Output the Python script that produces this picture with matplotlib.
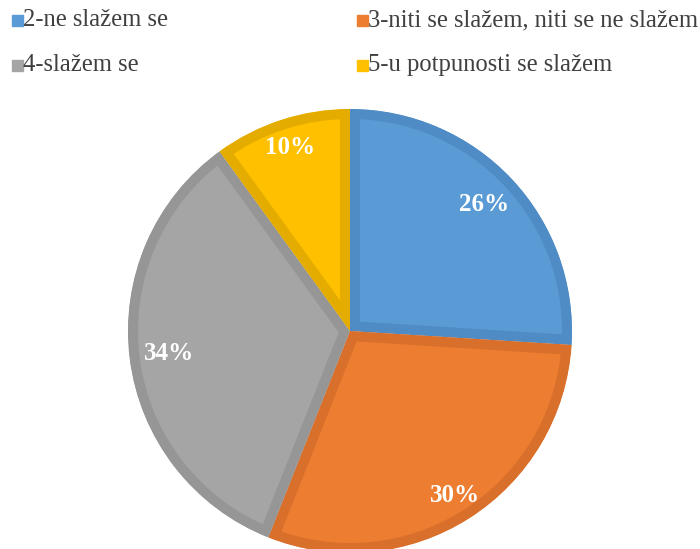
import numpy as np
import matplotlib.pyplot as plt
from matplotlib.patches import Rectangle

plt.rcParams['font.family'] = ['Liberation Serif', 'DejaVu Serif']

labels = ['2-ne slažem se', '3-niti se slažem, niti se ne slažem',
          '4-slažem se', '5-u potpunosti se slažem']
values = [26, 30, 34, 10]
colors = ['#5B9BD5', '#ED7D31', '#A5A5A5', '#FFC000']
edges = ['#4F8BC4', '#D86F2A', '#969696', '#E5AC00']
label_r = [0.83, 0.88, 0.82, 0.87]  # label distance as fraction of radius

fig = plt.figure(figsize=(7, 5.49), dpi=100)
ax = fig.add_axes([0, 0, 1, 1])

cx, cy, R = 350, 218, 222
wedges, texts, autotexts = ax.pie(values, colors=colors, startangle=90, counterclock=False,
                                  center=(cx, cy), radius=R, autopct='%d%%',
                                  textprops=dict(color='white', fontsize=18, fontweight='bold'))
ax.set_xlim(0, 700)
ax.set_ylim(0, 549)
ax.set_aspect('equal')
ax.axis('off')

# thick inner border: stroke clipped to the wedge itself
for w, ec in zip(wedges, edges):
    w.set_edgecolor(ec)
    w.set_linewidth(14.4)
    w.set_clip_on(True)
    w.set_clip_path(w)

for w, t, f in zip(wedges, autotexts, label_r):
    a = np.deg2rad((w.theta1 + w.theta2) / 2)
    t.set_position((cx + f * R * np.cos(a), cy + f * R * np.sin(a)))

# legend, two columns
pos = [(12, 20), (357, 20), (12, 65), (357, 65)]
for (x, y), lab, c in zip(pos, labels, colors):
    fig.patches.append(Rectangle((x / 700, 1 - (y + 5.5) / 549), 11 / 700, 11 / 549,
                                 transform=fig.transFigure, color=c))
    fig.text((x + 11) / 700, 1 - y / 549, lab, fontsize=17.7, color='#404040', va='center')

fig.savefig('out.png')
